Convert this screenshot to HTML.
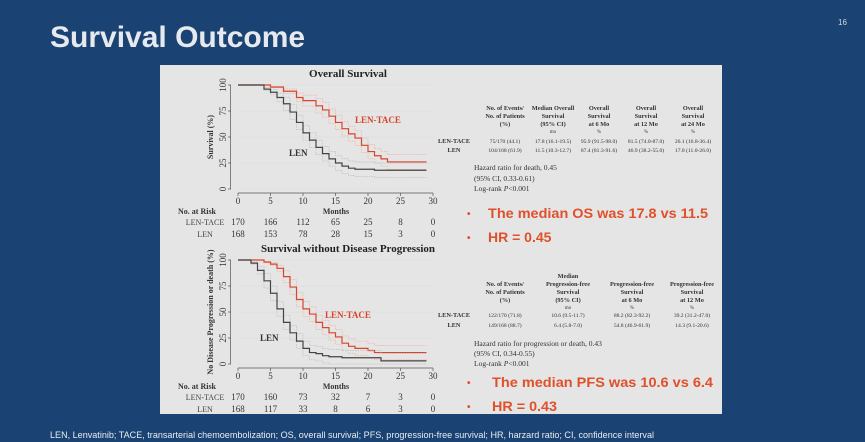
<!DOCTYPE html>
<html><head><meta charset="utf-8"><style>
html,body{margin:0;padding:0;background:#1a4373;}
svg{display:block;font-family:"Liberation Serif",serif;}
</style></head><body>
<svg id="s" width="865" height="442" viewBox="0 0 865 442" xmlns="http://www.w3.org/2000/svg">
<rect width="865" height="442" fill="#1a4373"/>
<text x="50" y="47" font-family="Liberation Sans, sans-serif" font-weight="bold" font-size="30" fill="#e6eaee">Survival Outcome</text>
<text x="838" y="25" font-family="Liberation Sans, sans-serif" font-size="8" fill="#cfd6df">16</text>
<rect x="160" y="65" width="562" height="349" fill="#e5e5e5"/>
<g id="os"></g>
<g id="pfs"></g>

<g font-size="6.3" font-weight="bold" text-anchor="middle" fill="#333">
<text x="505" y="110">No. of Events/</text><text x="505" y="118">No. of Patients</text><text x="505" y="126">(%)</text>
<text x="553" y="110">Median Overall</text><text x="553" y="118">Survival</text><text x="553" y="126">(95% CI)</text><text x="553" y="133" font-weight="normal" font-size="5">mo</text>
<text x="599" y="110">Overall</text><text x="599" y="118">Survival</text><text x="599" y="126">at 6 Mo</text><text x="599" y="133" font-weight="normal" font-size="5">%</text>
<text x="646" y="110">Overall</text><text x="646" y="118">Survival</text><text x="646" y="126">at 12 Mo</text><text x="646" y="133" font-weight="normal" font-size="5">%</text>
<text x="693" y="110">Overall</text><text x="693" y="118">Survival</text><text x="693" y="126">at 24 Mo</text><text x="693" y="133" font-weight="normal" font-size="5">%</text>
<text x="454" y="143">LEN-TACE</text><text x="454" y="152">LEN</text>
<g font-weight="normal" font-size="5.6">
<text x="505" y="143">75/170 (44.1)</text><text x="553" y="143">17.8 (16.1-19.5)</text><text x="599" y="143">95.9 (91.5-98.0)</text><text x="646" y="143">81.5 (74.0-87.0)</text><text x="693" y="143">26.1 (16.8-36.4)</text>
<text x="505" y="152">104/168 (61.9)</text><text x="553" y="152">11.5 (10.3-12.7)</text><text x="599" y="152">87.4 (81.3-91.6)</text><text x="646" y="152">46.9 (38.2-55.0)</text><text x="693" y="152">17.8 (11.0-26.0)</text>
</g></g>
<g font-size="7.5" fill="#333">
<text x="474" y="170">Hazard ratio for death, 0.45</text><text x="474" y="181">(95% CI, 0.33-0.61)</text><text x="474" y="191">Log-rank <tspan font-style="italic">P</tspan>&lt;0.001</text>
</g>

<g font-size="6.3" font-weight="bold" text-anchor="middle" fill="#333">
<text x="505" y="286">No. of Events/</text><text x="505" y="294">No. of Patients</text><text x="505" y="302">(%)</text>
<text x="568" y="278">Median</text><text x="568" y="286">Progression-free</text><text x="568" y="294">Survival</text><text x="568" y="302">(95% CI)</text><text x="568" y="309" font-weight="normal" font-size="5">mo</text>
<text x="632" y="286">Progression-free</text><text x="632" y="294">Survival</text><text x="632" y="302">at 6 Mo</text><text x="632" y="309" font-weight="normal" font-size="5">%</text>
<text x="692" y="286">Progression-free</text><text x="692" y="294">Survival</text><text x="692" y="302">at 12 Mo</text><text x="692" y="309" font-weight="normal" font-size="5">%</text>
<text x="454" y="317">LEN-TACE</text><text x="454" y="327">LEN</text>
<g font-weight="normal" font-size="5.6">
<text x="505" y="317">122/170 (71.8)</text><text x="568" y="317">10.6 (9.5-11.7)</text><text x="632" y="317">88.2 (82.3-92.2)</text><text x="692" y="317">39.2 (31.2-47.0)</text>
<text x="505" y="327">149/168 (88.7)</text><text x="568" y="327">6.4 (5.8-7.0)</text><text x="632" y="327">54.8 (46.9-61.9)</text><text x="692" y="327">14.3 (9.1-20.6)</text>
</g></g>
<g font-size="7.5" fill="#333">
<text x="474" y="346">Hazard ratio for progression or death, 0.43</text><text x="474" y="356">(95% CI, 0.34-0.55)</text><text x="474" y="366">Log-rank <tspan font-style="italic">P</tspan>&lt;0.001</text>
</g>

<g font-family="Liberation Sans, sans-serif" font-weight="bold" fill="#e0502a" font-size="14">
<text x="467" y="217" font-size="10">•</text><text x="488" y="218" textLength="220" lengthAdjust="spacingAndGlyphs">The median OS was 17.8 vs 11.5</text>
<text x="467" y="241" font-size="10">•</text><text x="488" y="242">HR = 0.45</text>
<text x="467" y="386" font-size="10">•</text><text x="492" y="387" textLength="221" lengthAdjust="spacingAndGlyphs">The median PFS was 10.6 vs 6.4</text>
<text x="467" y="410" font-size="10">•</text><text x="492" y="411" textLength="65" lengthAdjust="spacingAndGlyphs">HR = 0.43</text>
</g>
<text x="50" y="438" font-family="Liberation Sans, sans-serif" font-size="9.5" fill="#e8ecf0" textLength="604" lengthAdjust="spacingAndGlyphs">LEN, Lenvatinib; TACE, transarterial chemoembolization; OS, overall survival; PFS, progression-free survival; HR, harzard ratio; CI, confidence interval</text>
</svg>
<script>
const xTicks=[0,5,10,15,20,25,30];
const yTicks=[0,25,50,75,100];
const osTaceT=[0,3,5,7,9,10,12,13,14,15,16,17,18,19,20,21,22,23,29];
const osTaceS=[100,100,98,94,88,85,80,76,70,64,58,53,49,42,36,32,29,26,26];
const osLenT=[0,2.5,4,5,6,7,8,9,10,11,12,13,14,15,16,17,18,21,29];
const osLenS=[100,100,96,93,88,82,74,64,54,47,40,34,29,25,22,20,19,18,18];
const pfsTaceT=[0,2,4,5,6,7,8,9,10,11,12,13,14,15,16,17,18,20,21,29];
const pfsTaceS=[100,100,98,96,92,84,74,62,53,48,40,35,30,26,20,17,15,13,11,11];
const pfsLenT=[0,1.5,2,3,4,5,6,7,8,9,10,11,12,13,14,16,20,22,29];
const pfsLenS=[100,100,97,90,80,68,53,40,30,22,15,11,10,8,7,6,6,3,3];
const osRiskTace=[170,166,112,65,25,8,0];
const osRiskLen=[168,153,78,28,15,3,0];
const pfsRiskTace=[170,160,73,32,7,3,0];
const pfsRiskLen=[168,117,33,8,6,3,0];
const NS='http://www.w3.org/2000/svg';
function mk(g,tag,attrs,txt){const e=document.createElementNS(NS,tag);for(const k in attrs)e.setAttribute(k,attrs[k]);if(txt!==undefined)e.textContent=txt;g.appendChild(e);return e;}
function draw(gid,top,title,ylab,tT,tS,lT,lS,rT,rL,labTace,labLen){
 const g=document.getElementById(gid);
 const x=m=>238+m*6.5, y=v=>top+20+(100-v)*1.04;
 const t=mk(g,'text',{x:348,y:top+12,'text-anchor':'middle','font-size':11,'font-weight':'bold',fill:'#222'},title);
 
 
 yTicks.forEach(v=>{
  const gl=mk(g,'line',{x1:x(0),x2:x(30),y1:y(v),y2:y(v),stroke:'#dcdcdc','stroke-width':0.5});
  
  
  mk(g,'line',{x1:228,x2:231,y1:y(v),y2:y(v),stroke:'#555','stroke-width':0.7});
  const tl=mk(g,'text',{x:226,y:y(v),'font-size':9,fill:'#333','text-anchor':'middle',transform:`rotate(-90 226 ${y(v)})`},v);
  
  
 });
 mk(g,'line',{x1:230.5,x2:230.5,y1:y(100),y2:y(0),stroke:'#555','stroke-width':0.7});
 const ay=top+128;
 mk(g,'line',{x1:x(0),x2:x(30),y1:ay,y2:ay,stroke:'#555','stroke-width':0.7});
 xTicks.forEach((m,i)=>{
  mk(g,'line',{x1:x(m),x2:x(m),y1:ay,y2:ay+3,stroke:'#555','stroke-width':0.7});
  const xl=mk(g,'text',{x:x(m),y:ay+11,'font-size':9,fill:'#333','text-anchor':'middle'},m);
  
  
  const r1=mk(g,'text',{x:x(m),y:ay+32,'font-size':9,fill:'#333','text-anchor':'middle'},rT[i]);
  
  
  const r2=mk(g,'text',{x:x(m),y:ay+44,'font-size':9,fill:'#333','text-anchor':'middle'},rL[i]);
  
  
 });
 const yt=mk(g,'text',{x:213,y:y(50),'font-size':8,'font-weight':'bold',fill:'#333','text-anchor':'middle',transform:`rotate(-90 213 ${y(50)})`},ylab);
 
 
 const xt=mk(g,'text',{x:336,y:ay+21,'font-size':8,'font-weight':'bold',fill:'#333','text-anchor':'middle'},'Months');
 
 
 mk(g,'text',{x:178,y:ay+21,'font-size':8,'font-weight':'bold',fill:'#333'},'No. at Risk');
 mk(g,'text',{x:205,y:ay+32,'font-size':8,fill:'#444','text-anchor':'middle'},'LEN-TACE');
 mk(g,'text',{x:205,y:ay+44,'font-size':8,fill:'#444','text-anchor':'middle'},'LEN');
 const adj=(s,o)=>Math.max(0,Math.min(100,s+o*Math.min(1,(100-s)/20)));
 function step(T,S,off){let d='M'+x(T[0])+','+y(adj(S[0],off));for(let i=1;i<T.length;i++){d+=' H'+x(T[i])+' V'+y(adj(S[i],off));}return d;}
 [[tT,tS,'#eeaa98','#d9452b','curve-len-tace'],[lT,lS,'#b8b8b8','#444444','curve-len']].forEach(([T,S,cc,c,n])=>{
  [-7,7].forEach(o=>{const p=mk(g,'path',{d:step(T,S,o),fill:'none',stroke:cc,'stroke-width':0.6,'stroke-dasharray':'1.5 1'});
   
   });
  const p=mk(g,'path',{d:step(T,S,0),fill:'none',stroke:c,'stroke-width':1.2});
  
  
 });
 const l1=mk(g,'text',{x:labTace[0],y:labTace[1],'font-size':9,'font-weight':'bold',fill:'#d9452b'},'LEN-TACE');
 
 
 const l2=mk(g,'text',{x:labLen[0],y:labLen[1],'font-size':9,'font-weight':'bold',fill:'#333'},'LEN');
 
 
}
draw('os',65,'Overall Survival','Survival (%)',osTaceT,osTaceS,osLenT,osLenS,osRiskTace,osRiskLen,[355,123],[289,156]);
draw('pfs',240,'Survival without Disease Progression','No Disease Progression or death (%)',pfsTaceT,pfsTaceS,pfsLenT,pfsLenS,pfsRiskTace,pfsRiskLen,[325,318],[260,341]);
</script>
</body></html>
